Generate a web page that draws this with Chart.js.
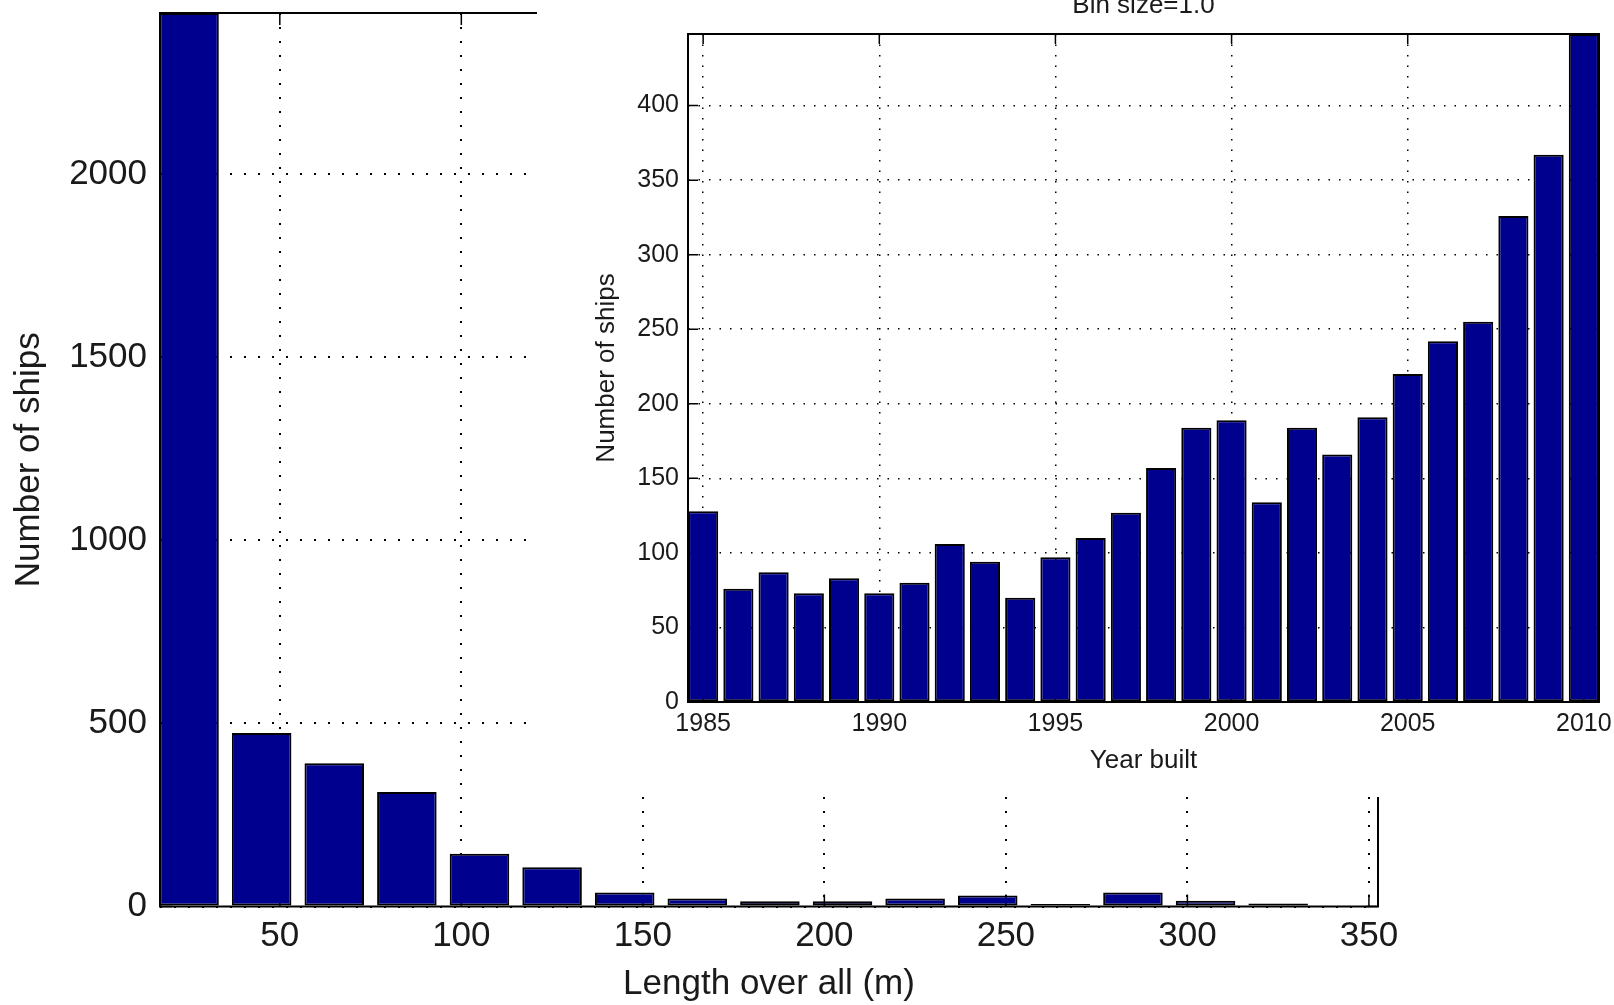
<!DOCTYPE html>
<html>
<head>
<meta charset="utf-8">
<title>Ships by length and year built</title>
<script src="https://cdn.jsdelivr.net/npm/chart.js@4.4.0/dist/chart.umd.min.js"></script>
<style>
  html, body { margin: 0; padding: 0; background: #fff; }
  #wrap { position: relative; width: 1614px; height: 1005px; overflow: hidden; }
  #mainChart { position: absolute; left: 0; top: 0; }
  #insetChart { position: absolute; left: 537px; top: 0; background: #fff; }
</style>
</head>
<body>
<div id="wrap">
  <canvas id="mainChart" width="1614" height="1005"></canvas>
  <canvas id="insetChart" width="1077" height="797"></canvas>
</div>
<script>
// main histogram: bin centres (m) and counts
const lengthBins = [25, 45, 65, 85, 105, 125, 145, 165, 185, 205, 225, 245, 265, 285, 305, 325, 345];
const shipsByLength = [2440, 474, 391, 313, 144, 107, 38, 22, 14, 14, 22, 30, 7, 38, 16, 8, 0];
const lengthTicks = [50, 100, 150, 200, 250, 300, 350];
const lengthCountTicks = [0, 500, 1000, 1500, 2000];

// inset histogram: year built, bin size 1
const years = [1985, 1986, 1987, 1988, 1989, 1990, 1991, 1992, 1993, 1994, 1995, 1996, 1997,
               1998, 1999, 2000, 2001, 2002, 2003, 2004, 2005, 2006, 2007, 2008, 2009, 2010];
const shipsByYear = [128, 76, 87, 73, 83, 73, 80, 106, 94, 70, 97, 110, 127,
                     157, 184, 189, 134, 184, 166, 191, 220, 242, 255, 326, 367, 448];
const yearTicks = [1985, 1990, 1995, 2000, 2005, 2010];
const yearCountTicks = [0, 50, 100, 150, 200, 250, 300, 350, 400];

const FONT = "'Liberation Sans', Arial, sans-serif";
const TEXT = '#1a1a1a';
const BAR_FILL = '#00008f';

// MATLAB-ish axes: inward tick marks under the bars, box on top, optional title
const matlabAxes = {
    id: 'matlabAxes',
    beforeDatasetsDraw(chart, args, opts) {
        const { ctx, chartArea: a, scales: { x, y } } = chart;
        const len = opts.tickLength;
        ctx.save();
        ctx.strokeStyle = '#000';
        ctx.lineWidth = 1.5;
        ctx.beginPath();
        x.ticks.forEach(t => {
            const px = x.getPixelForValue(t.value);
            ctx.moveTo(px, a.bottom); ctx.lineTo(px, a.bottom - len);
            ctx.moveTo(px, a.top); ctx.lineTo(px, a.top + len);
        });
        y.ticks.forEach(t => {
            const py = y.getPixelForValue(t.value);
            ctx.moveTo(a.left, py); ctx.lineTo(a.left + len, py);
            ctx.moveTo(a.right, py); ctx.lineTo(a.right - len, py);
        });
        ctx.stroke();
        ctx.restore();
    },
    afterDatasetsDraw(chart, args, opts) {
        const { ctx, chartArea: a } = chart;
        ctx.save();
        ctx.strokeStyle = '#000';
        ctx.lineWidth = opts.boxWidth;
        ctx.strokeRect(a.left, a.top, a.right - a.left, a.bottom - a.top);
        if (opts.title) {
            ctx.fillStyle = TEXT;
            ctx.font = opts.titleSize + 'px ' + FONT;
            ctx.textAlign = 'center';
            ctx.textBaseline = 'alphabetic';
            ctx.fillText(opts.title, (a.left + a.right) / 2, opts.titleBaseline);
        }
        ctx.restore();
    }
};

function fixedTicks(values) {
    return scale => { scale.ticks = values.map(v => ({ value: v })); };
}

function axis(opts) {
    return {
        type: 'linear',
        min: opts.min,
        max: opts.max,
        offset: false,
        afterBuildTicks: fixedTicks(opts.ticks),
        afterFit: scale => {
            if (opts.width) scale.width = opts.width;
            if (opts.height) scale.height = opts.height;
            scale.paddingTop = 0; scale.paddingBottom = 0;
            scale.paddingLeft = 0; scale.paddingRight = 0;
        },
        grid: { color: '#000', lineWidth: opts.dotWidth, drawTicks: false, offset: false },
        border: { display: false, dash: opts.dash },
        ticks: {
            color: TEXT,
            font: { family: FONT, size: opts.fontSize },
            padding: opts.tickPad,
            autoSkip: false,
            maxRotation: 0,
            callback: v => String(v)
        },
        title: {
            display: true,
            text: opts.title,
            color: TEXT,
            font: { family: FONT, size: opts.titleSize },
            padding: opts.titlePad
        }
    };
}

new Chart(document.getElementById('mainChart'), {
    type: 'bar',
    data: {
        datasets: [{
            data: lengthBins.map((x, i) => ({ x: x, y: shipsByLength[i] })),
            backgroundColor: BAR_FILL,
            borderColor: '#000',
            borderWidth: 2,
            borderSkipped: false,
            barPercentage: 0.82,
            categoryPercentage: 1,
            clip: 0
        }]
    },
    options: {
        responsive: false,
        animation: false,
        events: [],
        layout: { padding: { top: 13, right: 236, bottom: 0, left: 0 } },
        scales: {
            x: axis({ min: 17, max: 352.5, ticks: lengthTicks, height: 98.5, dotWidth: 2, dash: [2, 12],
                      fontSize: 35, tickPad: 9, title: 'Length over all (m)', titleSize: 35,
                      titlePad: { top: 0, bottom: 0 } }),
            y: axis({ min: 0, max: 2440, ticks: lengthCountTicks, width: 160, dotWidth: 2, dash: [2, 12],
                      fontSize: 35, tickPad: 13, title: 'Number of ships', titleSize: 35,
                      titlePad: { top: 8, bottom: 0 } })
        },
        plugins: {
            legend: { display: false },
            tooltip: { enabled: false },
            matlabAxes: { tickLength: 12, boxWidth: 2 }
        }
    },
    plugins: [matlabAxes]
});

new Chart(document.getElementById('insetChart'), {
    type: 'bar',
    data: {
        datasets: [{
            data: years.map((x, i) => ({ x: x, y: shipsByYear[i] })),
            backgroundColor: BAR_FILL,
            borderColor: '#000',
            borderWidth: 2,
            borderSkipped: false,
            barPercentage: 0.855,
            categoryPercentage: 1,
            clip: 0
        }]
    },
    options: {
        responsive: false,
        animation: false,
        events: [],
        layout: { padding: { top: 34, right: 15, bottom: 0, left: 0 } },
        scales: {
            x: axis({ min: 1984.57, max: 2010.43, ticks: yearTicks, height: 95, dotWidth: 1.5, dash: [1.5, 9],
                      fontSize: 25, tickPad: 7, title: 'Year built', titleSize: 26,
                      titlePad: { top: 0, bottom: 21 } }),
            y: axis({ min: 0, max: 448, ticks: yearCountTicks, width: 151, dotWidth: 1.5, dash: [1.5, 9],
                      fontSize: 25, tickPad: 9, title: 'Number of ships', titleSize: 26,
                      titlePad: { top: 54, bottom: 0 } })
        },
        plugins: {
            legend: { display: false },
            tooltip: { enabled: false },
            matlabAxes: { tickLength: 10, boxWidth: 2, title: 'Bin size=1.0', titleSize: 26, titleBaseline: 13 }
        }
    },
    plugins: [matlabAxes]
});
</script>
</body>
</html>
